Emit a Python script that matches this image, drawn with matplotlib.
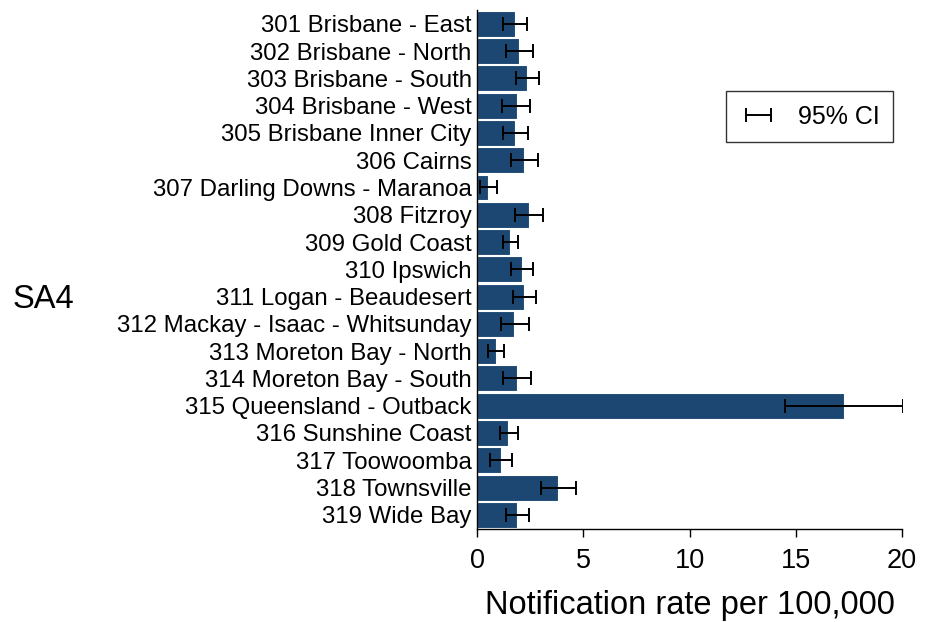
import matplotlib
matplotlib.use("Agg")
import matplotlib.pyplot as plt
import numpy as np

plt.rcParams['font.family'] = ['Liberation Sans', 'DejaVu Sans']

# SA4 regions and notification rates (per 100,000) with 95% CI
regions = [
    "301 Brisbane - East", "302 Brisbane - North", "303 Brisbane - South",
    "304 Brisbane - West", "305 Brisbane Inner City", "306 Cairns",
    "307 Darling Downs - Maranoa", "308 Fitzroy", "309 Gold Coast",
    "310 Ipswich", "311 Logan - Beaudesert", "312 Mackay - Isaac - Whitsunday",
    "313 Moreton Bay - North", "314 Moreton Bay - South", "315 Queensland - Outback",
    "316 Sunshine Coast", "317 Toowoomba", "318 Townsville", "319 Wide Bay",
]
rates = [1.77, 1.97, 2.35, 1.86, 1.80, 2.20, 0.49, 2.44, 1.55, 2.10,
         2.22, 1.75, 0.87, 1.86, 17.26, 1.47, 1.11, 3.82, 1.88]
ci_low = [1.22, 1.34, 1.81, 1.19, 1.23, 1.59, 0.12, 1.80, 1.22, 1.58,
          1.69, 1.12, 0.49, 1.22, 14.48, 1.06, 0.59, 2.99, 1.37]
ci_high = [2.36, 2.61, 2.90, 2.50, 2.39, 2.85, 0.93, 3.12, 1.92, 2.63,
           2.79, 2.44, 1.28, 2.52, 20.03, 1.92, 1.66, 4.64, 2.42]

rates = np.array(rates)
err = np.array([rates - np.array(ci_low), np.array(ci_high) - rates])
ypos = np.arange(len(regions))

fig = plt.figure(figsize=(9.3, 6.22), dpi=100)
ax = fig.add_axes([0.513, 0.1495, 0.457, 0.835])

ax.barh(ypos, rates, height=0.95, color='#1c4773', edgecolor='white', linewidth=0.8)
ax.errorbar(rates, ypos, xerr=err, fmt='none', ecolor='black',
            elinewidth=1.4, capsize=5, capthick=1.4, label='95% CI')

ax.set_ylim(len(regions) - 0.5 + 0.02, -0.5 - 0.02)
ax.set_xlim(0, 20)
ax.set_yticks(ypos)
ax.set_yticklabels(regions, fontsize=17.3)
ax.set_xticks([0, 5, 10, 15, 20])
ax.tick_params(axis='x', labelsize=19.5, length=5.5, width=1, pad=8)
ax.tick_params(axis='y', length=0, pad=4)

for side in ['top', 'right']:
    ax.spines[side].set_visible(False)
ax.spines['left'].set_linewidth(1)
ax.spines['bottom'].set_linewidth(1)

ax.set_xlabel("Notification rate per 100,000", fontsize=23.5, labelpad=12)
fig.text(0.013, 0.518, "SA4", fontsize=23.5, va='center', ha='left')

leg = ax.legend(loc='upper left', bbox_to_anchor=(0.781, 0.854), bbox_transform=fig.transFigure,
                fontsize=18, frameon=True, fancybox=False, edgecolor='black',
                handlelength=1.5, borderpad=0.55, handletextpad=0.8, borderaxespad=0)
leg.get_frame().set_linewidth(1)

fig.savefig("out.png", dpi=100)
